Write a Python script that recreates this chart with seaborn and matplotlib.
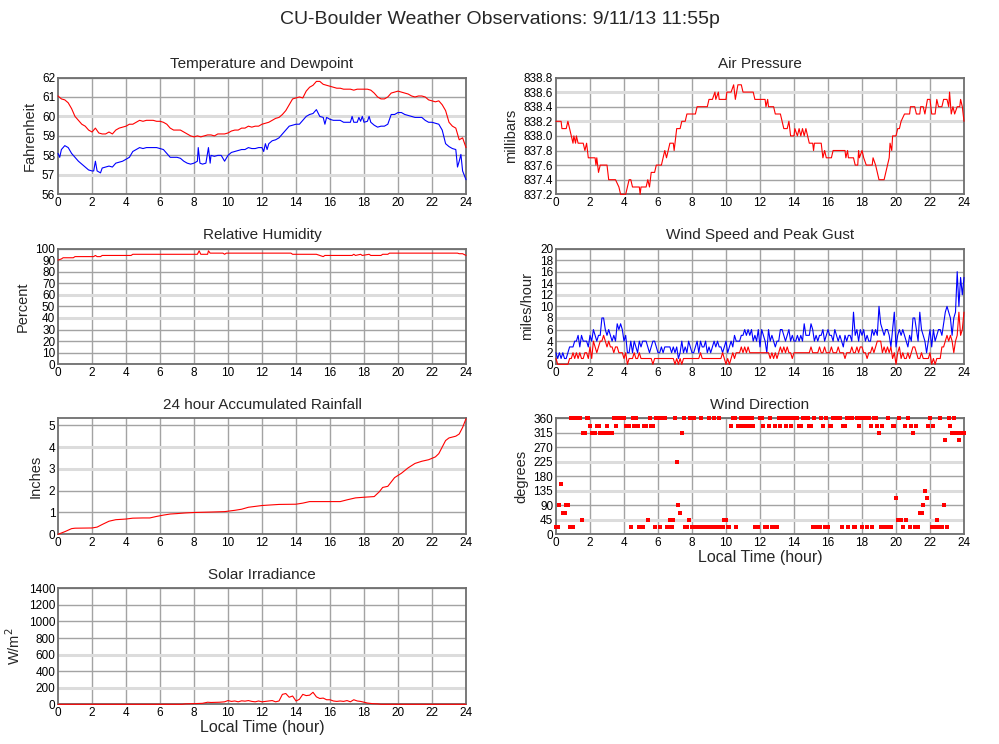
import numpy as np
import pandas as pd
import matplotlib
matplotlib.use("Agg")
import matplotlib.pyplot as plt
import seaborn as sns

sns.set_style("white")
plt.rcParams['font.family'] = ['Liberation Sans', 'DejaVu Sans']

# ---------------- data ----------------
temp_hours = [round(i * 0.2, 1) for i in range(121)]
temp_f = [61.05, 60.9, 60.85, 60.7, 60.4, 60.0, 59.8, 59.6, 59.5, 59.3,
          59.2, 59.4, 59.15, 59.1, 59.1, 59.2, 59.1, 59.3, 59.4, 59.45,
          59.5, 59.6, 59.6, 59.7, 59.8, 59.75, 59.8, 59.8, 59.8, 59.75,
          59.75, 59.7, 59.6, 59.4, 59.3, 59.3, 59.3, 59.2, 59.1, 59.0,
          58.95, 59.0, 58.95, 59.0, 59.05, 59.05, 59.0, 59.1, 59.1, 59.1,
          59.15, 59.25, 59.3, 59.3, 59.4, 59.4, 59.5, 59.45, 59.5, 59.5,
          59.6, 59.65, 59.7, 59.8, 59.9, 59.95, 60.1, 60.3, 60.6, 60.9,
          60.95, 61.0, 60.95, 61.3, 61.5, 61.6, 61.8, 61.8, 61.65, 61.6,
          61.55, 61.5, 61.45, 61.45, 61.4, 61.4, 61.4, 61.35, 61.4, 61.4,
          61.4, 61.4, 61.35, 61.2, 61.0, 60.9, 60.9, 61.0, 61.2, 61.25,
          61.3, 61.25, 61.2, 61.15, 61.05, 61.0, 61.05, 61.05, 61.0, 60.85,
          60.8, 60.75, 60.8, 60.6, 60.3, 59.7, 59.5, 59.4, 58.8, 58.9,
          58.4]

dew_hours = [0, 0.1, 0.2, 0.4, 0.6, 0.8, 1.0, 1.2, 1.4, 1.6, 1.8, 2.0, 2.1, 2.2, 2.3,
             2.4, 2.5, 2.6, 2.8, 3.0, 3.2, 3.4, 3.6, 3.8, 4.0, 4.2, 4.4, 4.6, 4.8,
             5.0, 5.2, 5.4, 5.6, 5.8, 6.0, 6.2, 6.4, 6.6, 6.8, 7.0, 7.2, 7.4, 7.6,
             7.8, 8.0, 8.2, 8.25, 8.35, 8.5, 8.7, 8.85, 8.95, 9.0, 9.2, 9.4, 9.6,
             9.8, 10.0, 10.2, 10.4, 10.6, 10.8, 11.0, 11.2, 11.4, 11.6, 11.8, 12.0,
             12.1, 12.2, 12.3, 12.4, 12.6, 12.8, 13.0, 13.2, 13.4, 13.6, 13.8, 14.0,
             14.2, 14.4, 14.6, 14.8, 15.0, 15.2, 15.4, 15.6, 15.7, 15.8, 16.0, 16.2,
             16.4, 16.6, 16.8, 17.0, 17.2, 17.3, 17.4, 17.6, 17.7, 17.8, 17.9, 18.0,
             18.2, 18.3, 18.4, 18.6, 18.8, 19.0, 19.2, 19.4, 19.6, 19.8, 20.0, 20.2,
             20.4, 20.6, 20.8, 21.0, 21.2, 21.4, 21.6, 21.8, 22.0, 22.2, 22.4, 22.6,
             22.8, 23.0, 23.2, 23.4, 23.5, 23.6, 23.7, 23.8, 24.0]
dew_f = [58.1, 57.9, 58.3, 58.5, 58.4, 58.1, 57.9, 57.7, 57.55, 57.4, 57.25, 57.2, 57.2, 57.7, 57.2,
         57.15, 57.1, 57.35, 57.4, 57.45, 57.4, 57.6, 57.65, 57.7, 57.8, 57.9, 58.2, 58.3, 58.4,
         58.35, 58.4, 58.4, 58.4, 58.4, 58.35, 58.3, 58.1, 57.9, 57.9, 57.9, 57.85, 57.7, 57.6,
         57.55, 57.6, 57.7, 58.4, 57.6, 57.55, 57.6, 58.4, 57.6, 58.0, 57.95, 58.0, 58.0,
         57.7, 58.0, 58.15, 58.2, 58.25, 58.3, 58.3, 58.4, 58.35, 58.35, 58.4, 58.4,
         58.2, 58.6, 58.3, 58.6, 58.75, 58.8, 58.9, 59.1, 59.3, 59.5, 59.55, 59.6,
         59.6, 59.8, 60.0, 60.1, 60.15, 60.35, 60.0, 59.95, 59.6, 59.95, 59.85, 59.8,
         59.8, 59.8, 59.7, 59.7, 59.7, 60.0, 59.7, 59.7, 59.95, 59.75, 60.0, 59.7,
         59.75, 60.0, 59.7, 59.55, 59.45, 59.5, 59.5, 59.6, 60.1, 60.1, 60.2, 60.2,
         60.1, 60.05, 60.0, 59.95, 59.95, 59.95, 59.8, 59.7, 59.7, 59.65, 59.6, 59.3,
         58.6, 58.45, 58.35, 58.3, 57.4, 57.7, 58.05, 57.2, 56.75]

press_hours = [0, 0.3, 0.35, 0.6, 0.7, 0.8, 0.9, 1.0, 1.05, 1.15, 1.2, 1.3, 1.6, 1.7, 1.8, 1.9,
               2.3, 2.35, 2.4, 2.5, 2.6, 3.0, 3.1, 3.5, 3.7, 3.8, 4.1, 4.3, 4.4, 4.5, 4.9, 4.95,
               5.0, 5.3, 5.4, 5.5, 5.6, 5.8, 5.9, 6.2, 6.4, 6.5, 6.7, 6.9, 6.95, 7.1, 7.3, 7.4,
               7.6, 7.7, 8.2, 8.3, 8.9, 9.0, 9.2, 9.35, 9.4, 9.55, 9.6, 10.0, 10.05, 10.3, 10.45,
               10.55, 10.7, 10.9, 11.0, 11.6, 11.7, 12.3, 12.35, 12.45, 12.5, 12.8, 12.9, 13.2,
               13.4, 13.6, 13.7, 13.8, 14.0, 14.05, 14.2, 14.3, 14.4, 14.5, 14.6, 14.7, 14.9,
               15.1, 15.15, 15.2, 15.6, 15.7, 15.8, 15.9, 16.2, 16.3, 17.0, 17.05, 17.15, 17.2,
               17.5, 17.6, 17.75, 17.8, 17.85, 18.0, 18.1, 18.25, 18.6, 18.65, 18.8, 18.9, 19.0,
               19.3, 19.5, 19.6, 19.65, 19.75, 19.8, 20.0, 20.1, 20.2, 20.3, 20.5, 20.8, 20.85,
               21.1, 21.2, 21.4, 21.45, 21.6, 21.7, 21.85, 22.0, 22.1, 22.3, 22.4, 22.5, 22.7,
               22.8, 23.0, 23.1, 23.15, 23.25, 23.35, 23.45, 23.6, 23.75, 23.8, 23.9, 24.0]
press_mb = [838.2, 838.2, 838.1, 838.1, 838.2, 838.1, 838.0, 837.9, 838.0, 837.9, 838.0, 837.9, 837.9, 837.8, 837.9, 837.7,
            837.7, 837.6, 837.7, 837.5, 837.6, 837.6, 837.4, 837.4, 837.3, 837.2, 837.2, 837.4, 837.4, 837.3, 837.3, 837.2,
            837.3, 837.3, 837.4, 837.3, 837.5, 837.5, 837.6, 837.6, 837.8, 837.7, 837.9, 837.9, 837.8, 838.1, 838.1, 838.2,
            838.2, 838.3, 838.3, 838.4, 838.4, 838.5, 838.5, 838.6, 838.5, 838.6, 838.5, 838.5, 838.6, 838.6, 838.7,
            838.5, 838.7, 838.7, 838.6, 838.6, 838.5, 838.5, 838.4, 838.5, 838.4, 838.4, 838.3, 838.3,
            838.1, 838.1, 838.2, 838.0, 838.0, 838.1, 838.0, 838.1, 838.0, 838.1, 838.0, 838.1, 837.9,
            837.9, 837.8, 837.9, 837.9, 837.7, 837.8, 837.7, 837.7, 837.8, 837.8, 837.7, 837.8, 837.7,
            837.7, 837.6, 837.6, 837.8, 837.7, 837.8, 837.7, 837.6, 837.6, 837.7, 837.6, 837.5, 837.4,
            837.4, 837.6, 837.7, 837.9, 837.8, 838.0, 838.0, 838.1, 838.1, 838.2, 838.3, 838.3, 838.4,
            838.4, 838.3, 838.3, 838.4, 838.4, 838.3, 838.5, 838.5, 838.3, 838.3, 838.5, 838.4, 838.4,
            838.5, 838.5, 838.4, 838.6, 838.3, 838.4, 838.3, 838.4, 838.4, 838.5, 838.4, 838.2]

rh_hours = [0, 0.2, 0.3, 0.9, 1.0, 2.1, 2.2, 2.3, 2.5, 2.6, 4.3, 4.4, 8.2, 8.3, 8.4, 8.8, 8.85,
            8.95, 9.7, 9.8, 9.9, 13.7, 13.8, 15.2, 15.4, 15.6, 15.7, 17.3, 17.4, 17.5, 17.8, 17.9,
            18.3, 18.4, 19.0, 19.1, 19.4, 19.5, 23.5, 23.6, 23.8, 24.0]
rh_pct = [90, 91, 92, 92, 93, 93, 94, 93, 93, 94, 94, 95, 95, 98, 95, 95, 98,
          96, 96, 95, 96, 96, 95, 95, 94, 93, 94, 94, 95, 94, 95, 94,
          95, 94, 94, 95, 95, 96, 96, 95.5, 95.5, 94]

wind_hours = [round(i * 0.1, 1) for i in range(241)]
gust_mph = [2, 1, 2, 1, 2, 1, 1, 2, 3, 3,
            3, 4, 4, 5, 3, 5, 4, 4, 4, 3,
            5, 4, 6, 5, 4, 5, 5, 8, 8, 6,
            5, 6, 5, 4, 5, 4, 7, 6, 7, 6,
            4, 5, 2, 2, 4, 2, 4, 3, 2, 4,
            3, 4, 4, 4, 3, 2, 3, 4, 4, 3,
            2, 2, 3, 2, 3, 3, 3, 3, 2, 3,
            2, 3, 1, 2, 4, 2, 3, 2, 4, 3,
            2, 2, 3, 4, 2, 4, 3, 3, 4, 2,
            3, 2, 3, 4, 3, 4, 3, 3, 2, 3,
            4, 2, 3, 4, 3, 5, 4, 4, 4, 5,
            5, 6, 5, 6, 5, 6, 4, 5, 4, 6,
            3, 6, 5, 4, 2, 6, 4, 5, 4, 3,
            4, 4, 6, 6, 5, 4, 5, 6, 4, 5,
            4, 4, 5, 4, 5, 4, 7, 5, 5, 5,
            7, 6, 4, 5, 4, 5, 5, 6, 4, 5,
            6, 5, 5, 4, 6, 5, 4, 5, 4, 3,
            5, 4, 5, 5, 4, 9, 5, 6, 4, 6,
            5, 6, 4, 5, 4, 4, 6, 5, 6, 5,
            10, 7, 6, 5, 6, 6, 5, 3, 6, 9,
            3, 5, 6, 5, 6, 5, 4, 3, 5, 4,
            8, 8, 6, 4, 9, 6, 5, 4, 2, 4,
            6, 3, 6, 4, 5, 6, 6, 5, 7, 9,
            10, 9, 8, 5, 8, 9, 16, 10, 15, 12,
            15]
speed_mph = [1, 0, 0, 0, 0, 0, 0, 0, 1, 1,
             2, 1, 2, 1, 2, 1, 1, 2, 2, 1,
             3, 1, 4, 3, 2, 3, 4, 4, 5, 4,
             3, 4, 3, 3, 2, 3, 3, 2, 2, 2,
             1, 2, 0, 1, 1, 1, 2, 1, 1, 2,
             1, 1, 1, 1, 1, 1, 1, 0, 1, 1,
             1, 1, 1, 1, 1, 1, 1, 1, 1, 1,
             0, 1, 0, 1, 0, 1, 1, 1, 1, 1,
             1, 1, 1, 1, 1, 2, 1, 1, 1, 1,
             1, 1, 1, 1, 1, 1, 1, 1, 2, 1,
             0, 1, 0, 1, 2, 1, 2, 2, 2, 3,
             2, 3, 2, 3, 2, 2, 2, 2, 2, 2,
             2, 2, 2, 2, 2, 2, 1, 2, 1, 2,
             1, 2, 3, 2, 3, 2, 3, 2, 2, 1,
             2, 2, 2, 2, 2, 2, 2, 2, 2, 2,
             3, 2, 2, 2, 2, 3, 2, 2, 3, 2,
             2, 2, 3, 2, 2, 2, 3, 2, 2, 2,
             1, 2, 2, 2, 3, 2, 2, 3, 2, 3,
             3, 2, 2, 1, 2, 2, 3, 2, 3, 4,
             4, 4, 2, 3, 2, 3, 2, 3, 1, 2,
             0, 2, 3, 1, 2, 1, 1, 2, 1, 2,
             3, 3, 2, 1, 1, 2, 1, 1, 1, 1,
             2, 0, 1, 0, 1, 1, 1, 3, 3, 4,
             5, 4, 5, 4, 2, 4, 5, 9, 5, 6,
             9]

rain_hours = [0, 0.4, 0.8, 1.0, 2.0, 2.3, 2.6, 3.0, 3.4, 4.0, 4.4, 5.0, 5.4, 5.8, 6.2, 6.6,
              7.0, 7.5, 8.0, 9.0, 9.8, 10.4, 10.8, 11.2, 11.6, 12.0, 12.6, 13.0, 14.0, 14.4,
              14.8, 15.4, 16.6, 17.0, 17.5, 18.0, 18.6, 18.9, 19.1, 19.4, 19.6, 19.8, 20.2,
              20.6, 21.0, 21.4, 21.8, 22.2, 22.4, 22.6, 22.8, 23.0, 23.4, 23.6, 23.8, 24.0]
rain_in = [0, 0.12, 0.26, 0.28, 0.29, 0.33, 0.45, 0.6, 0.67, 0.7, 0.74, 0.75, 0.75, 0.82, 0.88, 0.93,
           0.95, 0.98, 1.0, 1.02, 1.04, 1.1, 1.15, 1.24, 1.28, 1.32, 1.35, 1.37, 1.38, 1.43,
           1.5, 1.5, 1.5, 1.58, 1.67, 1.7, 1.73, 1.95, 2.15, 2.2, 2.4, 2.6, 2.8,
           3.05, 3.25, 3.35, 3.42, 3.55, 3.7, 4.0, 4.3, 4.42, 4.5, 4.6, 4.9, 5.3]

dir_deg = [22.5, 22.5, 90, 157.5, 67.5, 67.5, 90, 90, 22.5, 360,
           22.5, 360, 360, 360, 360, 45, 315, 315, 360, 360,
           337.5, 315, 315, 315, 337.5, 337.5, 315, 315, 315, 315,
           337.5, 315, 315, 315, 360, 337.5, 360, 360, 360, 360,
           360, 337.5, 337.5, 337.5, 22.5, 360, 337.5, 360, 337.5, 22.5,
           22.5, 22.5, 337.5, 337.5, 45, 360, 337.5, 337.5, 22.5, 360,
           360, 22.5, 360, 360, 360, 22.5, 22.5, 45, 22.5, 45,
           360, 225, 90, 67.5, 315, 360, 22.5, 22.5, 45, 360,
           22.5, 360, 22.5, 22.5, 22.5, 360, 22.5, 22.5, 22.5, 22.5,
           360, 22.5, 22.5, 360, 22.5, 22.5, 360, 22.5, 22.5, 45,
           45, 22.5, 22.5, 337.5, 360, 360, 22.5, 337.5, 337.5, 360,
           337.5, 360, 337.5, 360, 337.5, 360, 337.5, 22.5, 22.5, 22.5,
           360, 360, 337.5, 22.5, 22.5, 337.5, 360, 22.5, 22.5, 337.5,
           22.5, 360, 337.5, 360, 360, 337.5, 360, 360, 337.5, 360,
           360, 360, 360, 337.5, 337.5, 360, 360, 360, 360, 337.5,
           337.5, 22.5, 360, 22.5, 22.5, 22.5, 360, 337.5, 22.5, 360,
           22.5, 337.5, 337.5, 360, 360, 360, 360, 360, 22.5, 337.5,
           337.5, 360, 22.5, 360, 360, 22.5, 22.5, 360, 337.5, 360,
           22.5, 360, 360, 22.5, 360, 337.5, 22.5, 360, 360, 337.5,
           315, 22.5, 337.5, 22.5, 22.5, 360, 22.5, 22.5, 337.5, 337.5,
           112.5, 45, 360, 45, 22.5, 337.5, 45, 360, 22.5, 337.5,
           315, 22.5, 337.5, 22.5, 67.5, 67.5, 90, 135, 112.5, 337.5,
           360, 22.5, 337.5, 22.5, 45, 22.5, 360, 22.5, 90, 292.5,
           22.5, 360, 337.5, 315, 360, 315, 315, 292.5, 315, 315,
           315]

solar_hours = [0, 7.3, 7.5, 8.0, 8.5, 8.8, 9.0, 9.5, 9.8, 10.0, 10.2, 10.4, 10.6, 10.8, 11.0,
               11.2, 11.4, 11.6, 11.8, 12.0, 12.2, 12.4, 12.6, 12.8, 13.0, 13.2, 13.4, 13.6,
               13.8, 14.0, 14.2, 14.4, 14.6, 14.8, 15.0, 15.2, 15.4, 15.6, 15.8, 16.0, 16.2,
               16.4, 16.6, 16.8, 17.0, 17.2, 17.4, 17.6, 17.8, 18.0, 18.2, 18.5, 18.8, 19.0, 24.0]
solar_wm2 = [0, 0, 5, 8, 12, 25, 22, 25, 30, 45, 35, 40, 30, 42, 38,
             45, 35, 30, 40, 30, 35, 40, 45, 30, 40, 120, 130, 85,
             100, 40, 60, 120, 105, 110, 145, 90, 70, 75, 55, 55, 40,
             35, 40, 35, 45, 30, 55, 40, 35, 25, 15, 8, 5, 0, 0]

hour_ticks = list(range(0, 25, 2))

# ---------------- figure ----------------
W, H = 999, 744
fig = plt.figure(figsize=(W / 100, H / 100), dpi=100)
fig.patch.set_facecolor('white')

def box(x0, y0, x1, y1):
    return [x0 / W, 1 - y1 / H, (x1 - x0) / W, (y1 - y0) / H]

LX0, LX1, RX0, RX1 = 58, 466, 556, 964
rows = [(77.5, 194.3), (248.5, 364.3), (418.3, 534.3), (588.3, 704.3)]

DARK = '#a3a3a3'
LIGHT = '#dcdcdc'
LINE_KW = dict(lw=0.8, estimator=None, zorder=4, clip_on=False)

def style(ax, title, ylabel, yticks, ylim, light, fmt=None, xlabel=None):
    ax.set_xlim(0, 24)
    ax.set_ylim(*ylim)
    ax.set_xticks(hour_ticks)
    ax.set_yticks(yticks)
    if fmt:
        ax.set_yticklabels([fmt % v for v in yticks])
    for x in hour_ticks[1:-1]:
        ax.axvline(x, color=DARK, lw=1.0, zorder=0)
    for y in yticks:
        if y in light:
            ax.axhline(y, color=LIGHT, lw=2.2, zorder=0)
        else:
            ax.axhline(y, color=DARK, lw=1.0, zorder=0)
    ax.tick_params(length=0, labelsize=8.5, pad=2, colors='black')
    for s in ax.spines.values():
        s.set_color('#6e6e6e')
        s.set_linewidth(1.3)
    ax.set_title(title, fontsize=11, pad=7)
    ax.set_ylabel(ylabel, fontsize=10.5, labelpad=4)
    if xlabel:
        ax.set_xlabel(xlabel, fontsize=11.5, labelpad=1)
    else:
        ax.set_xlabel('')

# Temperature and dewpoint
ax = fig.add_axes(box(LX0, rows[0][0], LX1, rows[0][1]))
sns.lineplot(x=temp_hours, y=temp_f, ax=ax, color='#ff0000', **LINE_KW)
sns.lineplot(x=dew_hours, y=dew_f, ax=ax, color='#0000ff', **LINE_KW)
style(ax, 'Temperature and Dewpoint', 'Fahrenheit', list(range(56, 63)), (56, 62), [57, 60])

# Air pressure
ax = fig.add_axes(box(RX0, rows[0][0], RX1, rows[0][1]))
sns.lineplot(x=press_hours, y=press_mb, ax=ax, color='#ff0000', **LINE_KW)
pt = [837.2, 837.4, 837.6, 837.8, 838.0, 838.2, 838.4, 838.6, 838.8]
style(ax, 'Air Pressure', 'millibars', pt, (837.2, 838.8), [838.2, 838.6], fmt='%.1f')

# Relative humidity
ax = fig.add_axes(box(LX0, rows[1][0], LX1, rows[1][1]))
sns.lineplot(x=rh_hours, y=rh_pct, ax=ax, color='#ff0000', **LINE_KW)
style(ax, 'Relative Humidity', 'Percent', list(range(0, 101, 10)), (0, 100), [40, 60])

# Wind speed and gust
ax = fig.add_axes(box(RX0, rows[1][0], RX1, rows[1][1]))
sns.lineplot(x=wind_hours, y=gust_mph, ax=ax, color='#0000ff', **LINE_KW)
sns.lineplot(x=wind_hours, y=speed_mph, ax=ax, color='#ff0000', **LINE_KW)
style(ax, 'Wind Speed and Peak Gust', 'miles/hour', list(range(0, 21, 2)), (0, 20), [8, 12])

# Rainfall
ax = fig.add_axes(box(LX0, rows[2][0], LX1, rows[2][1]))
sns.lineplot(x=rain_hours, y=rain_in, ax=ax, color='#ff0000', **LINE_KW)
style(ax, '24 hour Accumulated Rainfall', 'Inches', list(range(0, 6)), (0, 5.32), [3, 4])

# Wind direction
ax = fig.add_axes(box(RX0, rows[2][0], RX1, rows[2][1]))
sns.scatterplot(x=wind_hours, y=dir_deg, ax=ax, color='#ff0000', marker='s', s=5,
                linewidth=0, zorder=4, clip_on=False)
style(ax, 'Wind Direction', 'degrees', list(range(0, 361, 45)), (0, 360), [45, 135, 225],
      xlabel='Local Time (hour)')

# Solar irradiance
ax = fig.add_axes(box(LX0, rows[3][0], LX1, rows[3][1]))
sns.lineplot(x=solar_hours, y=solar_wm2, ax=ax, color='#ff0000', **LINE_KW)
style(ax, 'Solar Irradiance', 'W/m$^2$', list(range(0, 1401, 200)), (0, 1400), [200, 600],
      xlabel='Local Time (hour)')

fig.text(0.5, 1 - 19 / H, 'CU-Boulder Weather Observations: 9/11/13 11:55p',
         ha='center', va='center', fontsize=14)

fig.savefig('out.png', dpi=100, facecolor='white')
